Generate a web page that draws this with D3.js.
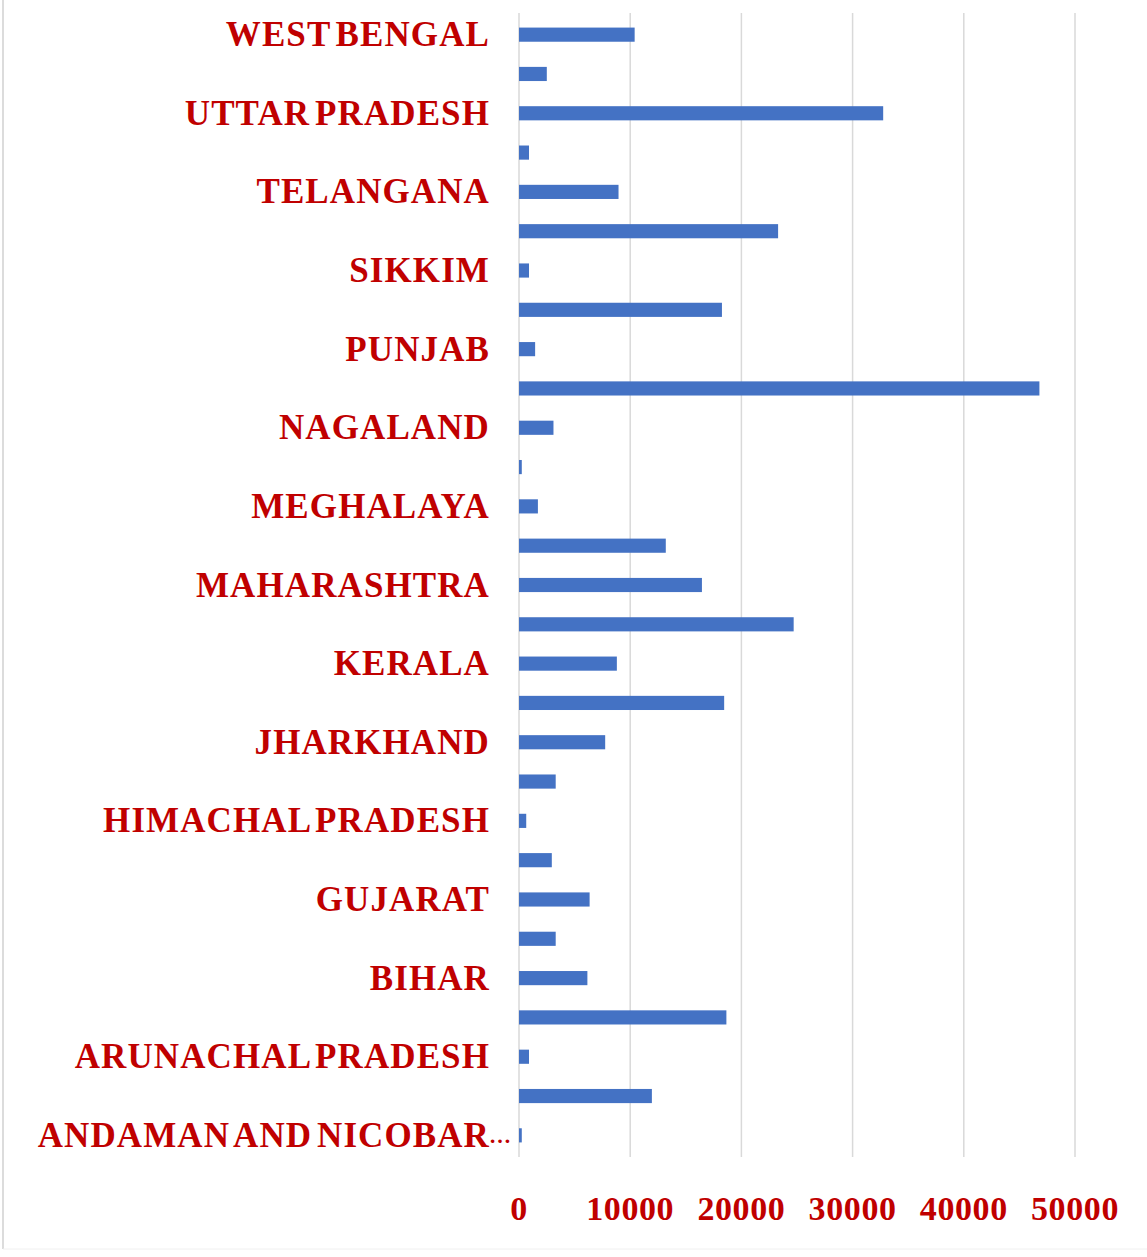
<!DOCTYPE html>
<html>
<head>
<meta charset="utf-8">
<script src="https://cdn.jsdelivr.net/npm/d3@7"></script>
<style>
  html, body { margin: 0; padding: 0; background: #fff; }
  svg { display: block; }
</style>
</head>
<body>
<svg id="chart" width="1147" height="1257"></svg>
<script>
// Categories listed bottom to top
const categories = [
  "ANDAMAN AND NICOBAR…", "ANDHRA PRADESH", "ARUNACHAL PRADESH", "ASSAM", "BIHAR",
  "CHHATTISGARH", "GUJARAT", "HARYANA", "HIMACHAL PRADESH", "JAMMU AND KASHMIR",
  "JHARKHAND", "KARNATAKA", "KERALA", "MADHYA PRADESH", "MAHARASHTRA",
  "MANIPUR", "MEGHALAYA", "MIZORAM", "NAGALAND", "ODISHA",
  "PUNJAB", "RAJASTHAN", "SIKKIM", "TAMIL NADU", "TELANGANA",
  "TRIPURA", "UTTAR PRADESH", "UTTARAKHAND", "WEST BENGAL"
];
const values = [
  250, 11950, 900, 18650, 6150,
  3300, 6350, 2950, 650, 3300,
  7750, 18450, 8800, 24700, 16450,
  13200, 1700, 250, 3100, 46800,
  1450, 18250, 900, 23300, 8950,
  900, 32750, 2500, 10400
];
const tickValues = [0, 10000, 20000, 30000, 40000, 50000];

const svg = d3.select("#chart");
const red = "#c00000";
const font = "'Liberation Serif', 'Times New Roman', serif";

// frame
svg.append("line").attr("x1", 3).attr("x2", 3).attr("y1", 0).attr("y2", 1249)
  .attr("stroke", "#d0d0d0").attr("stroke-width", 1.5);
svg.append("line").attr("x1", 3).attr("x2", 1147).attr("y1", 1249).attr("y2", 1249)
  .attr("stroke", "#f0f0f0").attr("stroke-width", 1);

const x = d3.scaleLinear().domain([0, 50000]).range([519, 1075]);
const y = d3.scaleBand().domain(categories).range([1155, 15]).paddingInner(0.64).paddingOuter(0.32);

// gridlines
svg.append("g").selectAll("line").data(tickValues).join("line")
  .attr("x1", d => x(d)).attr("x2", d => x(d))
  .attr("y1", 13).attr("y2", 1157)
  .attr("stroke", "#d9d9d9").attr("stroke-width", 1.5);

// bars
svg.append("g").selectAll("rect").data(categories).join("rect")
  .attr("x", x(0))
  .attr("y", d => y(d))
  .attr("width", (d, i) => x(values[i]) - x(0))
  .attr("height", y.bandwidth())
  .attr("fill", "#4472c4");

// y labels (every other category)
const shown = categories.filter((d, i) => i % 2 === 0);
const lab = svg.append("g").selectAll("g").data(shown).join("g")
  .attr("transform", d => `translate(0,${y(d) + y.bandwidth() / 2})`);
lab.append("text")
  .attr("x", 490)
  .attr("dy", "0.33em")
  .attr("text-anchor", "end")
  .attr("font-family", font)
  .attr("font-weight", "bold")
  .attr("font-size", 35)
  .attr("letter-spacing", 1.1)
  .attr("word-spacing", -5)
  .attr("fill", red)
  .text(d => d.replace("…", ""));
lab.filter(d => d.endsWith("…")).append("text")
  .attr("x", 489)
  .attr("dy", "0.33em")
  .attr("font-family", font)
  .attr("font-weight", "bold")
  .attr("font-size", 22)
  .attr("letter-spacing", 1)
  .attr("fill", red)
  .text("…");

// x tick labels
svg.append("g").selectAll("text").data(tickValues).join("text")
  .attr("x", d => x(d))
  .attr("y", 1220)
  .attr("text-anchor", "middle")
  .attr("font-family", font)
  .attr("font-weight", "bold")
  .attr("font-size", 34)
  .attr("letter-spacing", 0.6)
  .attr("fill", red)
  .text(d => d);
</script>
</body>
</html>
